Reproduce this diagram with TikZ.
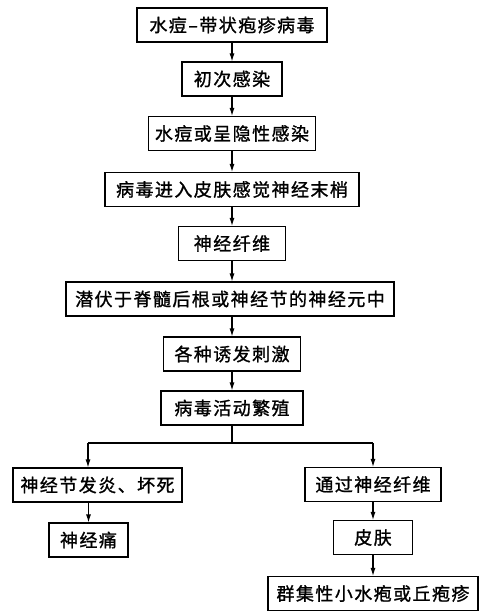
\documentclass[tikz,border=0pt]{standalone}
\usepackage{fontspec}
\newfontfamily\cjk[LetterSpace=8,FakeBold=1.2]{Noto Sans CJK SC}
\usetikzlibrary{arrows.meta}

\tikzset{
  flowbox/.style={draw, line width=1.1pt, inner sep=0pt, minimum height=34pt,
    font=\cjk\fontsize{18}{18}\selectfont},
  flowarrow/.style={line width=1.1pt, -{Latex[length=8pt,width=5pt]}},
  flowline/.style={line width=1.1pt},
}

\begin{document}
\begin{tikzpicture}[x=1pt,y=-1pt]
    \useasboundingbox (0,0) rectangle (492,615);
    % main column
    \node[flowbox, minimum width=190pt] (virus) at (232,25) {水痘–带状疱疹病毒};
    \node[flowbox, minimum width=100pt] (primary) at (232,79) {初次感染};
    \node[flowbox, minimum width=167pt] (chickenpox) at (232,133.5) {水痘或呈隐性感染};
    \node[flowbox, minimum width=254pt] (nerveend) at (232,189.5) {病毒进入皮肤感觉神经末梢};
    \node[flowbox, minimum width=107pt] (fiber) at (232,243.5) {神经纤维};
    \node[flowbox, minimum width=328pt] (latent) at (230,299) {潜伏于脊髓后根或神经节的神经元中};
    \node[flowbox, minimum width=137pt] (trigger) at (232,354) {各种诱发刺激};
    \node[flowbox, minimum width=142pt] (active) at (232,408) {病毒活动繁殖};
    \draw[flowarrow] (virus.south) -- (virus.south |- primary.north);
    \draw[flowarrow] (primary.south) -- (primary.south |- chickenpox.north);
    \draw[flowarrow] (chickenpox.south) -- (chickenpox.south |- nerveend.north);
    \draw[flowarrow] (nerveend.south) -- (nerveend.south |- fiber.north);
    \draw[flowarrow] (fiber.south) -- (fiber.south |- latent.north);
    \draw[flowarrow] (latent.south -| trigger) -- (trigger.north);
    \draw[flowarrow] (trigger.south) -- (trigger.south |- active.north);
    % branches
    \node[flowbox, minimum width=169pt] (ganglion) at (97.5,485) {神经节发炎、坏死};
    \node[flowbox, minimum width=79pt] (neuralgia) at (88.5,540) {神经痛};
    \node[flowbox, minimum width=136pt] (fiber2) at (373,484.5) {通过神经纤维};
    \node[flowbox, minimum width=79pt] (skin) at (373,537.5) {皮肤};
    \node[flowbox, minimum width=210pt] (blisters) at (373,593.5) {群集性小水疱或丘疱疹};
    \coordinate (split) at (232,443);
    \coordinate (splitL) at (88,443);
    \coordinate (splitR) at (373,443);
    \draw[flowline] (active.south) -- (split);
    \draw[flowline] (splitL) -- (splitR);
    \draw[flowarrow] (splitL) -- (splitL |- ganglion.north);
    \draw[flowarrow] (splitR) -- (fiber2.north);
    \draw[flowarrow] (neuralgia.north |- ganglion.south) -- (neuralgia.north);
    \draw[flowarrow] (fiber2.south) -- (skin.north);
    \draw[flowarrow] (skin.south) -- (blisters.north);
\end{tikzpicture}
\end{document}
